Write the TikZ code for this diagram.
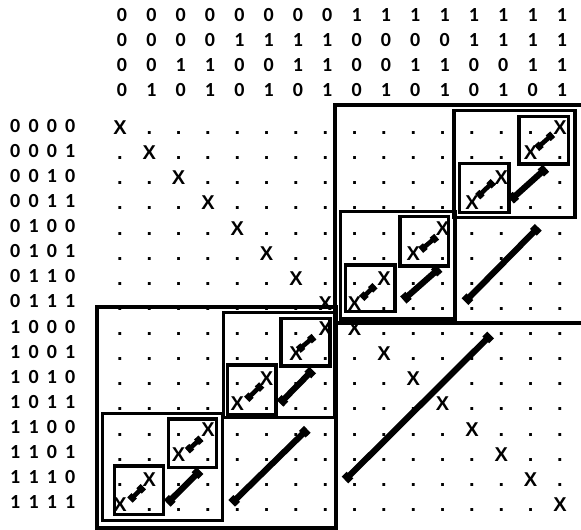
\documentclass[tikz,border=0pt]{standalone}
\usepackage{fontspec}
\setmainfont{Liberation Sans}
\newfontfamily\digitfont{Carlito}
\usetikzlibrary{arrows.meta}
\begin{document}
\begin{tikzpicture}[x=1pt,y=-1pt,
  cell/.style={anchor=base,inner sep=0pt,font={\fontsize{20}{24}\selectfont\bfseries}},
  bit/.style={anchor=base,inner sep=0pt,font={\digitfont\fontsize{20}{24}\selectfont\bfseries}},
  frame/.style={line width=3.2pt},
  bigarrow/.style={line width=6.2pt,{Square[length=7pt,width=9.5pt]}-{Square[length=7pt,width=9.5pt]}},
  smallarrow/.style={line width=4.6pt,{Square[length=6pt,width=7.5pt]}-{Square[length=6pt,width=7.5pt]}}]
\useasboundingbox (0,0) rectangle (581,530);
% column headers
\foreach \j in {0,...,15}{
  \foreach \k in {0,...,3}{
    \pgfmathtruncatemacro\bv{mod(div(\j,2^(3-\k)),2)}
    \node[bit] (h-\k-\j) at ({122+29.33*\j},{21+25*\k}) {\bv};
  }
}
% row labels
\foreach \i in {0,...,15}{
  \foreach \k/\xx in {0/15.3,1/33.6,2/52,3/70.3}{
    \pgfmathtruncatemacro\bv{mod(div(\i,2^(3-\k)),2)}
    \node[bit] (r-\i-\k) at (\xx,{132+25.13*\i}) {\bv};
  }
}
% matrix entries
\foreach \i in {0,...,15}{
  \foreach \j in {0,...,15}{
    \ifnum\i=\j \def\t{X}\else\ifnum\numexpr\i+\j\relax=15 \def\t{X}\else\def\t{.}\fi\fi
    \node[cell] (m-\i-\j) at ({120+29.33*\j},{134.5+25.13*\i}) {\t};
  }
}
% top-right block
\draw[frame] (581,105) -- (335,105) -- (335,323) -- (581,323);
\draw[frame] (454,110.7) rectangle (575,217.3);
\draw[frame] (519,116.7) rectangle (568.3,164);
\draw[frame] (459.3,163.3) rectangle (509,212.3);
\draw[frame] (340.7,211.7) rectangle (455,319);
\draw[frame] (400,216.7) rectangle (448.3,266);
\draw[frame] (345.7,265) rectangle (395,311.7);
% bottom-left block
\draw[frame] (97,307) rectangle (336,528);
\draw[frame] (223.3,312.7) rectangle (334.5,417.3);
\draw[frame] (281,318.3) rectangle (330,366);
\draw[frame] (227.3,365) rectangle (276,414.3);
\draw[frame] (102.7,413.3) rectangle (222.7,520.7);
\draw[frame] (168.3,419) rectangle (216.7,467.7);
\draw[frame] (114.3,466) rectangle (163.3,514.3);
% arrow end points
\coordinate (a1s) at (510.7,200);   \coordinate (a1e) at (546,168.3);
\coordinate (a2s) at (403.3,300);   \coordinate (a2e) at (439.3,268.3);
\coordinate (a3s) at (465,301.7);   \coordinate (a3e) at (538.3,227.3);
\coordinate (a4s) at (345,480);     \coordinate (a4e) at (490.7,335);
\coordinate (a5s) at (280,403.3);   \coordinate (a5e) at (312.7,370);
\coordinate (a6s) at (167.3,503.3); \coordinate (a6e) at (200,470.7);
\coordinate (a7s) at (231.7,503.3); \coordinate (a7e) at (307.3,429.3);
\coordinate (s1s) at (536.7,148.3); \coordinate (s1e) at (552.7,134.3);
\coordinate (s2s) at (477.7,196.7); \coordinate (s2e) at (493.3,181.7);
\coordinate (s3s) at (420.7,250);   \coordinate (s3e) at (436.7,236.7);
\coordinate (s4s) at (361.7,298.3); \coordinate (s4e) at (375,285.7);
\coordinate (s5s) at (298.3,350);   \coordinate (s5e) at (314,336.7);
\coordinate (s6s) at (246.7,399.3); \coordinate (s6e) at (261.7,385);
\coordinate (s7s) at (187.3,450.7); \coordinate (s7e) at (201,438.3);
\coordinate (s8s) at (130,500);     \coordinate (s8e) at (143.3,486.7);
\foreach \n in {1,...,7}{\draw[bigarrow] (a\n s) -- (a\n e);}
\foreach \n in {1,...,8}{\draw[smallarrow] (s\n s) -- (s\n e);}
\end{tikzpicture}
\end{document}
